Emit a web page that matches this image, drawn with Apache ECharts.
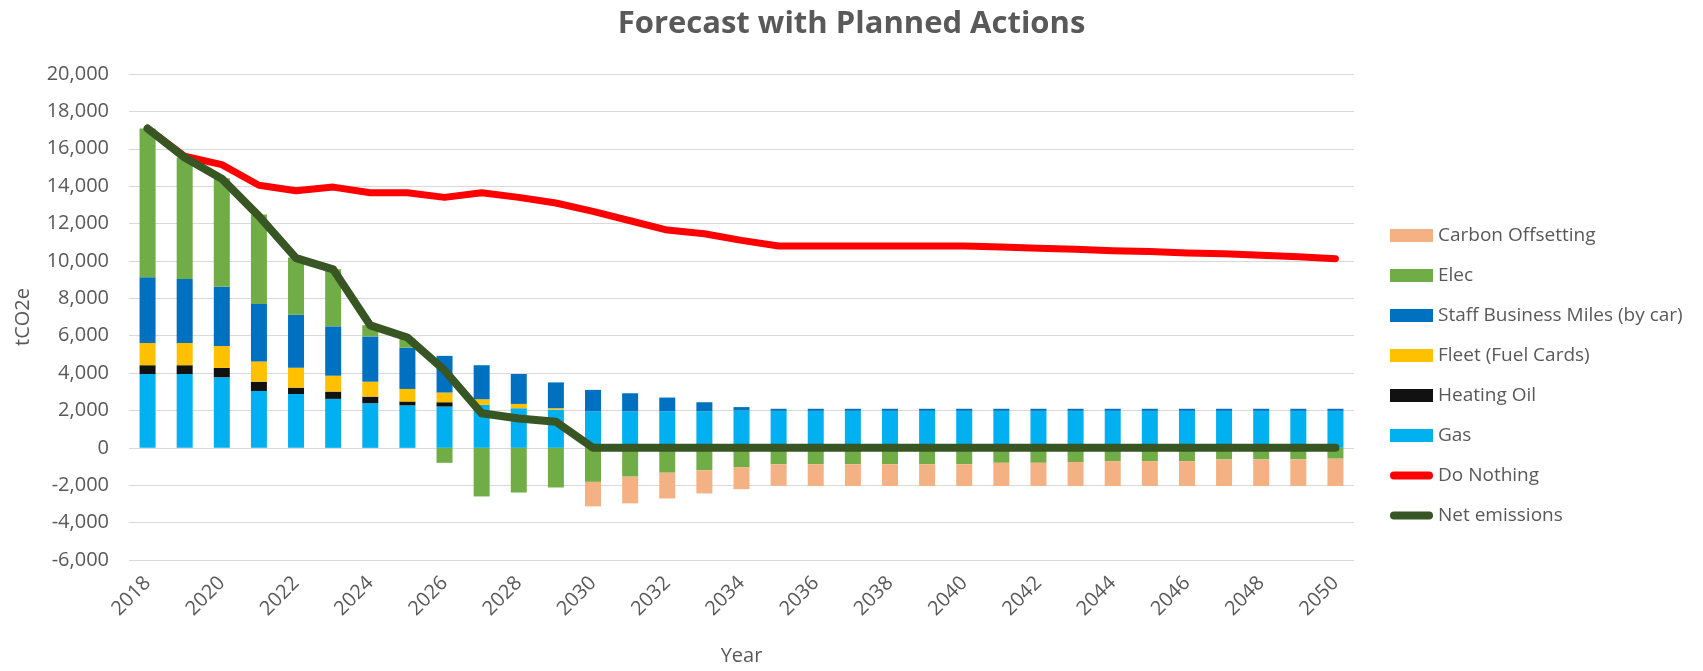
<!DOCTYPE html>
<html>
<head>
<meta charset="utf-8">
<script src="https://cdn.jsdelivr.net/npm/echarts@6/dist/echarts.min.js"></script>
<style>
  html, body { margin: 0; padding: 0; background: #fff; }
  #main { width: 1703px; height: 671px; }
</style>
</head>
<body>
<div id="main"></div>
<script>
// years 2018 - 2050
var years = ['2018','2019','2020','2021','2022','2023','2024','2025','2026','2027','2028',
  '2029','2030','2031','2032','2033','2034','2035','2036','2037','2038','2039','2040',
  '2041','2042','2043','2044','2045','2046','2047','2048','2049','2050']

var gas = [3950, 3950, 3770, 3040, 2880, 2620, 2390, 2270, 2210, 2300, 2120,
  2040, 1950, 1950, 1950, 1950, 2000, 1980, 1980, 1980, 1980, 1980, 1980,
  1980, 1980, 1980, 1980, 1980, 1980, 1980, 1980, 1980, 1980]
var heatingOil = [470, 470, 510, 500, 340, 390, 350, 210, 230, 0, 0,
  0, 0, 0, 0, 0, 0, 0, 0, 0, 0, 0, 0,
  0, 0, 0, 0, 0, 0, 0, 0, 0, 0]
var fleet = [1190, 1190, 1170, 1080, 1060, 850, 800, 670, 520, 300, 230,
  80, 0, 0, 0, 0, 0, 0, 0, 0, 0, 0, 0,
  0, 0, 0, 0, 0, 0, 0, 0, 0, 0]
var staffMiles = [3510, 3420, 3170, 3080, 2840, 2640, 2420, 2210, 1960, 1820, 1600,
  1380, 1150, 970, 740, 490, 180, 110, 110, 110, 110, 110, 110,
  110, 110, 110, 110, 110, 110, 110, 110, 110, 110]
var elec = [7960, 6500, 5800, 4780, 3060, 3050, 600, 480, -800, -2600, -2390,
  -2120, -1820, -1540, -1330, -1200, -1030, -880, -880, -880, -880, -880, -880,
  -800, -800, -760, -710, -710, -710, -620, -620, -620, -580]
var carbonOffset = [0, 0, 0, 0, 0, 0, 0, 0, 0, 0, 0,
  0, -1310, -1430, -1380, -1240, -1180, -1150, -1160, -1160, -1160, -1160, -1160,
  -1240, -1240, -1280, -1330, -1330, -1330, -1420, -1420, -1420, -1460]
var doNothing = [17100, 15600, 15150, 14050, 13750, 13950, 13650, 13650, 13400, 13650, 13400,
  13100, 12650, 12150, 11650, 11450, 11100, 10800, 10800, 10800, 10800, 10800, 10800,
  10750, 10680, 10620, 10550, 10500, 10420, 10380, 10300, 10220, 10120]
var netEmissions = [17080, 15530, 14400, 12400, 10150, 9550, 6550, 5900, 4150, 1850, 1570,
  1400, 0, 0, 0, 0, 0, 0, 0, 0, 0, 0, 0,
  0, 0, 0, 0, 0, 0, 0, 0, 0, 0]

var yTicks = { min: -6000, max: 20000, step: 2000 }

var txt = '#595959'
var font = '"Open Sans", "Liberation Sans", sans-serif'
// thick line with round ends, drawn inside the 44x13 legend box
var lineIcon = 'path://M0,0M44,13M4,2.5L40,2.5A4,4,0,0,1,40,10.5L4,10.5A4,4,0,0,1,4,2.5Z'

var myChart = echarts.init(document.getElementById('main'))

function barSeries (name, data, color) {
  return {
    name: name,
    type: 'bar',
    stack: 'total',
    barWidth: 16,
    itemStyle: { color: color },
    data: data
  }
}

var option = {
  animation: false,
  textStyle: { fontFamily: font },
  title: {
    text: 'Forecast with Planned Actions',
    left: 'center',
    top: 4,
    textStyle: { color: txt, fontSize: 31, fontWeight: 'bold', fontFamily: font }
  },
  grid: { left: 129, right: 349, top: 74, bottom: 105 },
  legend: {
    orient: 'vertical',
    left: 1385,
    top: 221,
    itemWidth: 43,
    itemHeight: 13,
    itemGap: 21,
    textStyle: { color: txt, fontSize: 19, fontFamily: font },
    data: [
      { name: 'Carbon Offsetting', icon: 'rect' },
      { name: 'Elec', icon: 'rect' },
      { name: 'Staff Business Miles (by car)', icon: 'rect' },
      { name: 'Fleet (Fuel Cards)', icon: 'rect' },
      { name: 'Heating Oil', icon: 'rect' },
      { name: 'Gas', icon: 'rect' },
      { name: 'Do Nothing', icon: lineIcon },
      { name: 'Net emissions', icon: lineIcon }
    ]
  },
  xAxis: {
    type: 'category',
    data: years,
    name: 'Year',
    nameLocation: 'middle',
    nameGap: 86,
    nameTextStyle: { color: txt, fontSize: 20 },
    axisLine: { show: false, onZero: false },
    axisTick: { show: false },
    axisLabel: { color: txt, fontSize: 20, rotate: 45, interval: 1, margin: 20 }
  },
  yAxis: {
    type: 'value',
    min: yTicks.min,
    max: yTicks.max,
    interval: yTicks.step,
    name: 'tCO2e',
    nameLocation: 'middle',
    nameGap: 96,
    nameTextStyle: { color: txt, fontSize: 20 },
    axisLine: { show: false },
    axisTick: { show: false },
    axisLabel: {
      color: txt,
      fontSize: 20,
      margin: 20,
      formatter: function (v) { return v.toLocaleString('en-US') }
    },
    splitLine: { lineStyle: { color: '#d9d9d9', width: 1 } }
  },
  series: [
    barSeries('Gas', gas, '#00b0f0'),
    barSeries('Heating Oil', heatingOil, '#111111'),
    barSeries('Fleet (Fuel Cards)', fleet, '#ffc000'),
    barSeries('Staff Business Miles (by car)', staffMiles, '#0070c0'),
    barSeries('Elec', elec, '#70ad47'),
    barSeries('Carbon Offsetting', carbonOffset, '#f4b183'),
    {
      name: 'Do Nothing',
      type: 'line',
      symbol: 'none',
      lineStyle: { color: '#ff0000', width: 7, cap: 'round', join: 'round' },
      itemStyle: { color: '#ff0000' },
      data: doNothing
    },
    {
      name: 'Net emissions',
      type: 'line',
      symbol: 'none',
      lineStyle: { color: '#375623', width: 8, cap: 'round', join: 'round' },
      itemStyle: { color: '#375623' },
      data: netEmissions
    }
  ]
}
myChart.setOption(option)
</script>
</body>
</html>
